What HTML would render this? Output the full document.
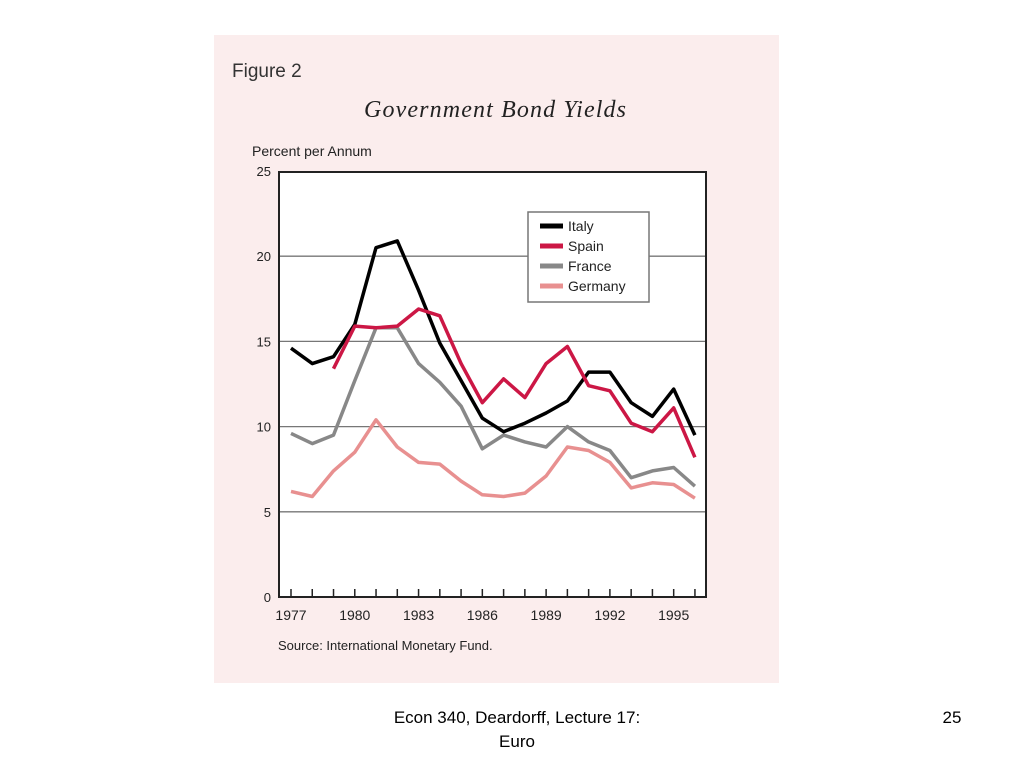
<!DOCTYPE html>
<html><head><meta charset="utf-8"><style>
body{margin:0;background:#fff;width:1024px;height:768px;overflow:hidden;font-family:"Liberation Sans",sans-serif}
</style></head><body>
<svg width="1024" height="768">
<rect x="214" y="35" width="565" height="648" fill="#fbeded"/>
<text x="232" y="77" font-size="19" fill="#333">Figure 2</text>
<text x="495" y="117" font-size="24" font-style="italic" text-anchor="middle" font-family="Liberation Serif,serif" fill="#222" textLength="262">Government Bond Yields</text>
<text x="252" y="156" font-size="14" fill="#222">Percent per Annum</text>
<rect x="279" y="172" width="427" height="425" fill="#fff"/>
<g id="grid"></g><g id="ticks"></g><g id="series"></g>
<rect x="279" y="172" width="427" height="425" fill="none" stroke="#222" stroke-width="2"/>
<g>
<rect x="528" y="212" width="121" height="90" fill="#fff" stroke="#777" stroke-width="1.5"/>
<line x1="540" y1="226" x2="563" y2="226" stroke="#000" stroke-width="5"/>
<text x="568" y="231" font-size="14" fill="#222">Italy</text>
<line x1="540" y1="246" x2="563" y2="246" stroke="#cc1745" stroke-width="5"/>
<text x="568" y="251" font-size="14" fill="#222">Spain</text>
<line x1="540" y1="266" x2="563" y2="266" stroke="#888" stroke-width="5"/>
<text x="568" y="271" font-size="14" fill="#222">France</text>
<line x1="540" y1="286" x2="563" y2="286" stroke="#e89090" stroke-width="5"/>
<text x="568" y="291" font-size="14" fill="#222">Germany</text>
</g>
<text x="278" y="650" font-size="13" fill="#222">Source: International Monetary Fund.</text>
<text x="517" y="723" font-size="17" text-anchor="middle" fill="#000">Econ 340, Deardorff, Lecture 17:</text>
<text x="517" y="747" font-size="17" text-anchor="middle" fill="#000">Euro</text>
<text x="952" y="723" font-size="17" text-anchor="middle" fill="#000">25</text>
</svg>
<script>
const years=[1977,1978,1979,1980,1981,1982,1983,1984,1985,1986,1987,1988,1989,1990,1991,1992,1993,1994,1995,1996];
const italy=[14.6,13.7,14.1,16.0,20.5,20.9,18.0,14.9,12.7,10.5,9.7,10.2,10.8,11.5,13.2,13.2,11.4,10.6,12.2,9.5];
const spain=[null,null,13.4,15.9,15.8,15.9,16.9,16.5,13.7,11.4,12.8,11.7,13.7,14.7,12.4,12.1,10.2,9.7,11.1,8.2];
const france=[9.6,9.0,9.5,12.7,15.8,15.8,13.7,12.6,11.2,8.7,9.5,9.1,8.8,10.0,9.1,8.6,7.0,7.4,7.6,6.5];
const germany=[6.2,5.9,7.4,8.5,10.4,8.8,7.9,7.8,6.8,6.0,5.9,6.1,7.1,8.8,8.6,7.9,6.4,6.7,6.6,5.8];
const yTicks=[0,5,10,15,20,25];
const xLabels=[1977,1980,1983,1986,1989,1992,1995];
const NS="http://www.w3.org/2000/svg";
function X(yr){return 291+(yr-1977)*21.26;}
function Y(v){return 597-v*17.04;}
function mk(tag,attrs,parent){const e=document.createElementNS(NS,tag);for(const k in attrs)e.setAttribute(k,attrs[k]);document.getElementById(parent).appendChild(e);return e;}
yTicks.forEach(v=>{
  if(v>0&&v<25){const l=mk('line',{x1:279,x2:706,y1:Y(v),y2:Y(v),stroke:'#777','stroke-width':1.3},'grid');
  
  }
  const t=mk('text',{x:271,y:Y(v)+5,'font-size':13,'text-anchor':'end',fill:'#222'},'ticks');t.textContent=v;
  
  
});
years.forEach(yr=>{const l=mk('line',{x1:X(yr),x2:X(yr),y1:597,y2:589,stroke:'#222','stroke-width':1.5},'ticks');
  
  });
xLabels.forEach(yr=>{const t=mk('text',{x:X(yr),y:620,'font-size':14,'text-anchor':'middle',fill:'#222'},'ticks');t.textContent=yr;
  
  });
function line(vals,color,name){let d='';vals.forEach((v,i)=>{if(v==null)return;d+=(d?'L':'M')+X(years[i]).toFixed(1)+','+Y(v).toFixed(1);});
  const p=mk('path',{d:d,fill:'none',stroke:color,'stroke-width':3.5,'stroke-linejoin':'round'},'series');
  
  }
line(germany,'#e89090','germany-line');
line(france,'#888','france-line');
line(italy,'#000','italy-line');
line(spain,'#cc1745','spain-line');
</script>
</body></html>
